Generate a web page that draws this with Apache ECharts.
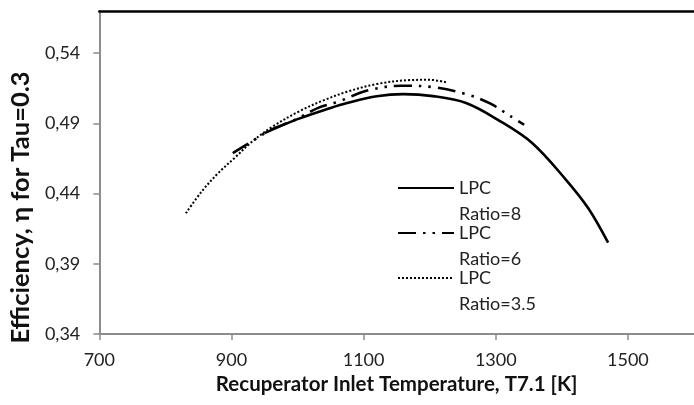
<!DOCTYPE html>
<html>
<head>
<meta charset="utf-8">
<script src="https://cdn.jsdelivr.net/npm/echarts@6/dist/echarts.min.js"></script>
<style>
html,body{margin:0;padding:0;background:#fff;}
#chart{width:694px;height:405px;}
</style>
</head>
<body>
<div id="chart"></div>
<script>
// Series names
const seriesNames = ['LPC\nRatio=8', 'LPC\nRatio=6', 'LPC\nRatio=3.5'];

// LPC Ratio=8 (solid)
const ratio8X = [950, 1000, 1050, 1075, 1120, 1160, 1205, 1255, 1305, 1355, 1405, 1440, 1470];
const ratio8Y = [0.483, 0.493, 0.501, 0.5045, 0.5093, 0.5108, 0.5094, 0.5045, 0.492, 0.476, 0.4505, 0.4295, 0.405];

// LPC Ratio=6 (long dash – dot – dot)
const ratio6X = [902, 927, 960, 994, 1032, 1062, 1107, 1157, 1205, 1254, 1292, 1322, 1343];
const ratio6Y = [0.4688, 0.476, 0.4855, 0.492, 0.5012, 0.5055, 0.5135, 0.5168, 0.5158, 0.511, 0.504, 0.4952, 0.489];

// LPC Ratio=3.5 (dotted)
const ratio35X = [831, 855, 880, 905, 930, 960, 1003, 1040, 1075, 1120, 1170, 1200, 1225];
const ratio35Y = [0.426, 0.4415, 0.4546, 0.4655, 0.4765, 0.487, 0.4987, 0.5065, 0.5125, 0.518, 0.5208, 0.521, 0.5192];

// Axis settings
const xMin = 700, xMax = 1600, xStep = 200;
const yMin = 0.34, yMax = 0.57, yStep = 0.05;

const xTitle = 'Recuperator Inlet Temperature, T7.1 [K]';
const yTitle = 'Efficiency, \u03b7 for Tau=0.3';

function pairs(xs, ys) { return xs.map((x, i) => [x, ys[i]]); }

const FONT = 'Lato';
const chart = echarts.init(document.getElementById('chart'), null, {renderer: 'canvas'});

chart.setOption({
  animation: false,
  backgroundColor: '#ffffff',
  grid: {left: 99, top: 11, right: -11, bottom: 71, containLabel: false},
  xAxis: [{
    type: 'value', min: xMin, max: xMax, interval: xStep,
    position: 'bottom',
    name: xTitle, nameLocation: 'middle', nameGap: 38,
    nameTextStyle: {fontFamily: FONT, fontSize: 20.5, fontWeight: 'bold', color: '#111'},
    axisLine: {show: true, onZero: false, lineStyle: {color: '#8c8c8c', width: 2}},
    axisTick: {show: true, length: 6, inside: false, lineStyle: {color: '#8c8c8c', width: 1.5}},
    axisLabel: {show: true, margin: 17, fontFamily: FONT, fontSize: 18, color: '#222', showMaxLabel: false,
      formatter: v => String(v)},
    splitLine: {show: false}
  }, {
    type: 'value', min: xMin, max: xMax, interval: xStep,
    position: 'top',
    axisLine: {show: true, onZero: false, lineStyle: {color: '#000', width: 2.5}},
    axisTick: {show: false}, axisLabel: {show: false}, splitLine: {show: false}
  }],
  yAxis: {
    type: 'value', min: yMin, max: yMax, interval: yStep,
    name: yTitle, nameLocation: 'middle', nameGap: 59,
    nameTextStyle: {fontFamily: FONT, fontSize: 25.5, fontWeight: 'bold', color: '#111', padding: [0, 70, 0, 0]},
    axisLine: {show: true, onZero: false, lineStyle: {color: '#8c8c8c', width: 2}},
    axisTick: {show: true, length: 6, inside: false, lineStyle: {color: '#8c8c8c', width: 1.5}},
    axisLabel: {
      show: true, margin: 19, fontFamily: FONT, fontSize: 18, color: '#222', showMaxLabel: false,
      formatter: v => v.toFixed(2).replace('.', ',')
    },
    splitLine: {show: false}
  },
  legend: {
    orient: 'vertical', left: 392, top: 144,
    itemWidth: 56, itemHeight: 14, itemGap: -33,
    data: seriesNames,
    itemStyle: {opacity: 0},
    formatter: name => '\n' + name,
    textStyle: {fontFamily: FONT, fontSize: 18, color: '#222', lineHeight: 26}
  },
  series: [{
    name: seriesNames[0], type: 'line', smooth: 0.35, symbol: 'none',
    data: pairs(ratio8X, ratio8Y),
    lineStyle: {color: '#000', width: 2.6, type: 'solid'},
    itemStyle: {color: '#000'}
  }, {
    name: seriesNames[1], type: 'line', smooth: 0.35, symbol: 'none',
    data: pairs(ratio6X, ratio6Y),
    lineStyle: {color: '#000', width: 2.6, type: [18, 7, 2.5, 7, 2.5, 7], cap: 'butt'},
    itemStyle: {color: '#000'}
  }, {
    name: seriesNames[2], type: 'line', smooth: 0.35, symbol: 'none',
    data: pairs(ratio35X, ratio35Y),
    lineStyle: {color: '#000', width: 2, type: [2, 2], cap: 'butt'},
    itemStyle: {color: '#000'}
  }]
});
</script>
</body>
</html>
